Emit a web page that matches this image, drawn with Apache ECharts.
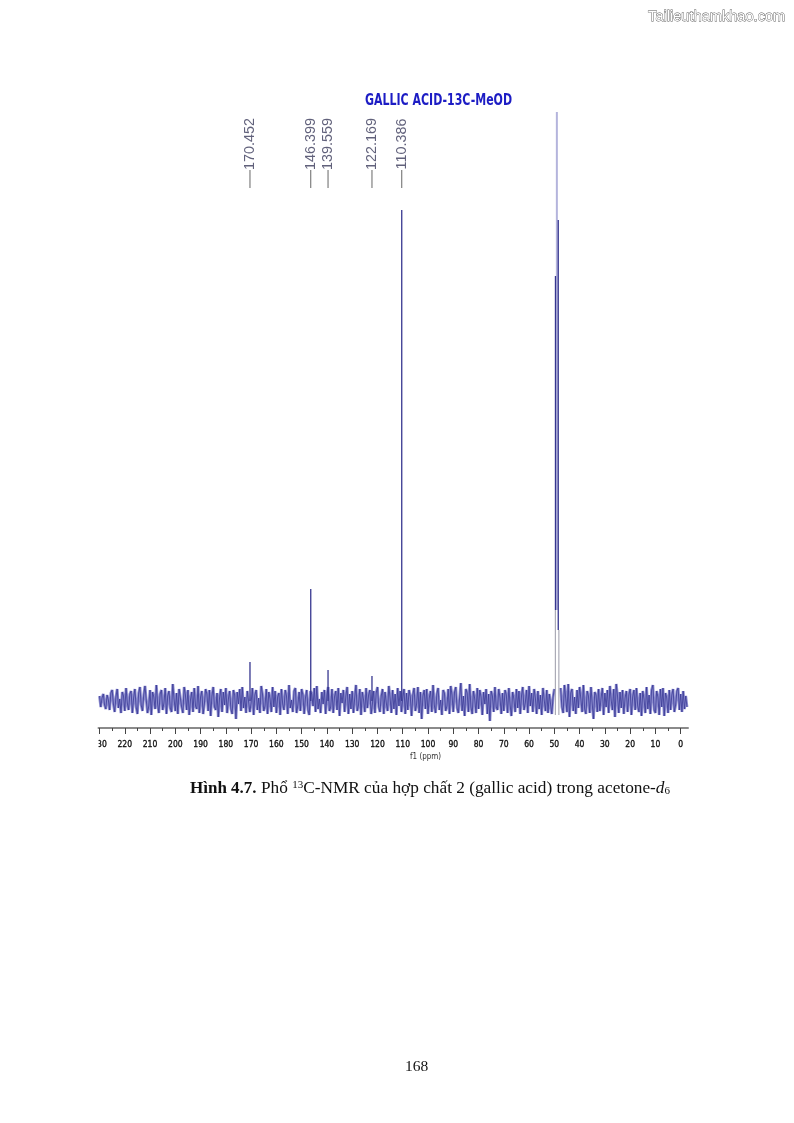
<!DOCTYPE html>
<html>
<head>
<meta charset="utf-8">
<title>GALLIC ACID-13C-MeOD</title>
<script src="https://cdn.jsdelivr.net/npm/echarts@6/dist/echarts.min.js"></script>
<style>
  html, body { margin: 0; padding: 0; background: #fff; }
  #main { width: 794px; height: 1123px; }
</style>
</head>
<body>
<div id="main"></div>
<script>
// tick labels on the ppm axis
var tickLabels = [230, 220, 210, 200, 190, 180, 170, 160, 150, 140, 130, 120, 110, 100, 90, 80, 70, 60, 50, 40, 30, 20, 10, 0];
var minorTicks = [225, 215, 205, 195, 185, 175, 165, 155, 145, 135, 125, 115, 105, 95, 85, 75, 65, 55, 45, 35, 25, 15, 5];

// picked peaks, ppm and the label printed over them
var pickedPpm = [170.452, 146.399, 139.559, 122.169, 110.386];
var pickedText = ['170.452', '146.399', '139.559', '122.169', '110.386'];

// sticks: ppm, foot and top
var darkPpm = [170.45, 146.40, 139.56, 122.17, 110.39, 49.55, 48.45];
var darkFoot = [0, 0, 0, 0, 0, 91, 71];
var darkTop = [39, 112, 31, 25, 491, 425, 481];
var palePpm = [49.0];
var paleFoot = [91];
var paleTop = [589];
var grayPpm = [49.6, 48.2];
var grayFoot = [-14, -14];
var grayTop = [91, 71];

// noise, one value each 0.5 ppm, from 230 ppm down to -3 ppm
var noiseStart = 230;
var noiseStep = 0.5;
var noise = [
  5, -6, 3, 7, -4, -8, 6, 1, -9, 8, 11, -3, -11, 4, 12, -7, 2, -12, 9, 5,
  -10, 13, -2, -9, 7, 10, -12, 3, 12, -6, -13, 8, 14, -4, -10, 6, 15, 1, -12, -5,
  11, -14, 9, 4, -8, 16, -3, -12, 7, 11, -9, -2, 13, -13, 5, 10, -7, -11, 17, 2,
  -10, 8, -13, 12, 3, -6, -12, 14, 6, -9, 11, -14, 1, 9, -11, 13, -5, -8, 15, -12,
  4, 10, -13, -3, 12, 7, -10, 11, -15, 5, 14, -6, -9, 8, -16, 3, 12, -11, 9, -4,
  13, -12, 2, 10, -8, -13, 11, 6, -18, 9, -3, 12, -10, 14, -7, 4, -12, 10, 8, -11,
  -2, 13, -14, 6, 11, -9, 3, -12, 15, 7, -10, -5, 12, -13, 9, 2, -11, 14, -6, 10,
  -12, 4, 8, -14, 12, -3, -9, 11, 5, -13, 16, -7, 1, -11, 10, 13, -12, -4, 9, -10,
  12, 6, -13, 3, 11, -9, -14, 10, 7, -5, 13, -11, 15, -8, 2, -12, 9, -3, 11, -13,
  6, 14, -10, -6, 12, -12, 4, 10, -9, 13, -15, 8, -2, 11, -11, 5, 14, -13, 7, -8,
  10, -12, 3, 16, -10, -4, 12, -14, 9, 1, -11, 13, -7, 6, 11, -13, -3, 10, -12, 8,
  14, -6, -11, 5, 12, -13, 9, -2, -10, 15, 3, -12, 11, -8, 7, -14, 13, -5, 10, -11,
  2, 12, -13, 8, -9, 11, 4, -15, 6, 13, -10, -3, 14, -12, 9, -18, 5, 11, -8, 12,
  -13, 3, 10, -11, 16, -4, -12, 7, 13, -9, 1, -14, 11, 8, -10, -5, 12, -13, 15, 6,
  -11, 9, 14, -7, -12, 3, 18, -10, 5, -15, 12, 8, -11, 17, -6, -13, 10, 2, -12, 13,
  -8, 11, 4, -14, 9, -3, 12, -13, 7, -20, 10, 5, -11, 14, -6, -9, 12, 3, -13, 8,
  -10, 11, 6, -12, 13, -4, -15, 9, 2, -11, 12, -7, 10, -13, 5, 14, -9, -2, 11, -12,
  15, -5, 8, -11, 12, 3, -13, 10, -8, 6, -14, 13, 1, -10, 11, -12, 7, 9, -13, 4,
  12, '-', '-', '-', '-', 13, -6, -12, 16, 3, -11, 17, -16, 8, 12, -10, 4, -13, 11, -7,
  14, 2, -11, 16, -8, -13, 10, 5, -12, 14, -3, -18, 9, 6, -11, 12, -10, 3, 13, -14,
  8, -6, 11, -12, 15, 1, -9, 12, -16, 17, 5, -12, 9, -7, 11, -13, 3, 10, -11, 6,
  12, -14, 4, 11, -9, 13, -5, -11, 8, -15, 10, 2, -12, 14, -8, 6, -13, 11, 16, -9,
  -12, 10, 4, -14, 12, -6, 13, -15, 8, 3, -12, 11, -9, 6, 12, -11, -4, 10, 13, -9,
  7, -11, 10, -8, 5, -6
];

// build one line series' data out of vertical sticks, a gap after each
function sticks(ppm, foot, top) {
  var out = [];
  ppm.forEach(function (p, i) {
    out.push([p, foot[i]], [p, top[i]], [p, '-']);
  });
  return out;
}

var noiseData = noise.map(function (v, i) {
  return [noiseStart - i * noiseStep, v];
});

var myChart = echarts.init(document.getElementById('main'));

var option = {
  animation: false,
  backgroundColor: '#fff',
  title: [
    {
      text: 'Tailieuthamkhao.com', right: 3, top: 4,
      textStyle: { color: '#fff', textBorderColor: '#555', textBorderWidth: 0.8, fontFamily: 'Liberation Sans', fontWeight: 'normal', fontSize: 14.6 }
    },
    {
      text: 'f1 (ppm)', left: 405, top: 748,
      textStyle: { color: '#333', fontFamily: 'DejaVu Sans Condensed', fontWeight: 'normal', fontSize: 8 }
    },
    {
      text: '{b|Hình 4.7.} Phổ {s|13}C-NMR của hợp chất 2 (gallic acid) trong acetone-{i|d}{u|6}',
      left: 185, top: 775,
      textStyle: {
        color: '#111', fontFamily: 'Liberation Serif', fontWeight: 'normal', fontSize: 17.3,
        rich: {
          b: { fontFamily: 'Liberation Serif', fontWeight: 'bold', fontSize: 17, color: '#111' },
          s: { fontFamily: 'Liberation Serif', fontSize: 11, color: '#111', verticalAlign: 'top', padding: [0, 0, 6, 0] },
          i: { fontFamily: 'Liberation Serif', fontStyle: 'italic', fontSize: 17.3, color: '#111' },
          u: { fontFamily: 'Liberation Serif', fontSize: 11, color: '#111', verticalAlign: 'bottom', padding: [5, 0, 0, 0] }
        }
      }
    },
    {
      text: '168', left: 400, top: 1054,
      textStyle: { color: '#111', fontFamily: 'Liberation Serif', fontWeight: 'normal', fontSize: 15.5 }
    }
  ],
  grid: { left: 98.5, right: 106, top: 112, bottom: 395, containLabel: false },
  xAxis: [
    {
      type: 'value', inverse: true, min: -2.9, max: 230.4, position: 'bottom',
      splitLine: { show: false },
      axisLine: { onZero: false, lineStyle: { color: '#8a8a8a', width: 2 } },
      axisTick: { show: true, inside: false, length: 6, lineStyle: { color: '#444', width: 1 }, customValues: tickLabels },
      axisLabel: {
        margin: 12, color: '#111', fontFamily: 'DejaVu Sans Condensed', fontWeight: 'normal', fontSize: 8.5,
        textBorderColor: '#111', textBorderWidth: 0.3,
        customValues: tickLabels
      }
    },
    {
      type: 'value', inverse: true, min: -2.9, max: 230.4, position: 'bottom',
      splitLine: { show: false },
      axisLine: { show: false, onZero: false },
      axisTick: { show: true, inside: false, length: 3, lineStyle: { color: '#444', width: 1 }, customValues: minorTicks },
      axisLabel: { show: false, customValues: minorTicks }
    }
  ],
  yAxis: { type: 'value', min: -27, max: 589, show: false, splitLine: { show: false } },
  graphic: [
    // the scan cuts the first digit of the 230 label off
    { type: 'rect', z: 100, shape: { x: 80, y: 736, width: 18.5, height: 16 }, style: { fill: '#fff' } },
    {
      type: 'text', z: 100, x: 365, y: 92, scaleX: 0.74,
      style: { text: 'GALLIC ACID-13C-MeOD', fill: '#1c1cc4', font: 'bold 16.5px "DejaVu Sans Condensed"' }
    }
  ],
  series: [
    {
      name: 'noiseFill', type: 'line', data: noiseData, showSymbol: false, connectNulls: false,
      lineStyle: { color: '#8c8ccf', width: 2.8, join: 'bevel' }, z: 1
    },
    {
      name: 'noise', type: 'line', data: noiseData, showSymbol: false, connectNulls: false,
      lineStyle: { color: '#3a3a96', width: 0.8, join: 'bevel' }, z: 2
    },
    {
      name: 'gray', type: 'line', data: sticks(grayPpm, grayFoot, grayTop), showSymbol: false,
      lineStyle: { color: '#9a9aa8', width: 1 }, z: 3
    },
    {
      name: 'pale', type: 'line', data: sticks(palePpm, paleFoot, paleTop), showSymbol: false,
      lineStyle: { color: '#b4b4dc', width: 2 }, z: 3
    },
    {
      name: 'dark', type: 'line', data: sticks(darkPpm, darkFoot, darkTop), showSymbol: false,
      lineStyle: { color: '#36368f', width: 1.3 }, z: 4
    },
    {
      name: 'stems', type: 'line', showSymbol: false,
      data: sticks(pickedPpm, pickedPpm.map(function () { return 513; }), pickedPpm.map(function () { return 531; })),
      lineStyle: { color: '#666', width: 1 }, z: 4
    },
    {
      name: 'picked', type: 'scatter', symbolSize: 0,
      data: pickedPpm.map(function (p, i) { return { value: [p, 531], name: pickedText[i] }; }),
      label: {
        show: true, position: 'top', distance: 0, rotate: 90, offset: [26, 0],
        align: 'center', verticalAlign: 'middle',
        formatter: function (params) { return params.name; },
        color: '#3a3a5a', fontFamily: 'Liberation Sans', fontSize: 14.4
      },
      z: 5
    }
  ]
};

myChart.setOption(option);
</script>
</body>
</html>
